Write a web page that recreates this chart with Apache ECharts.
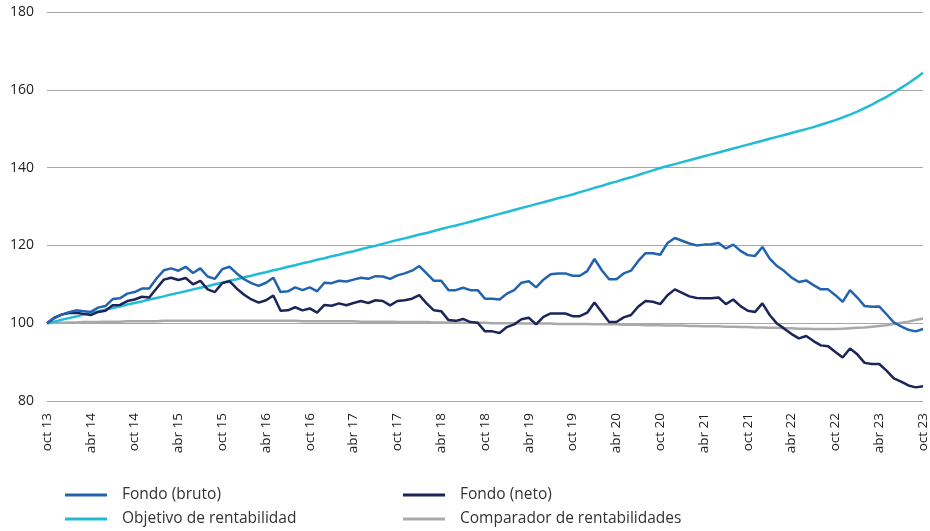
<!DOCTYPE html>
<html>
<head>
<meta charset="utf-8">
<script src="https://cdn.jsdelivr.net/npm/echarts@6/dist/echarts.min.js"></script>
<style>
  html, body { margin: 0; padding: 0; background: #fff; }
  #chart { width: 930px; height: 531px; }
</style>
</head>
<body>
<div id="chart"></div>
<script>
// meses de oct 13 a oct 23 (121 puntos mensuales)
var mesesAbr = ['ene', 'feb', 'mar', 'abr', 'may', 'jun', 'jul', 'ago', 'sep', 'oct', 'nov', 'dic'];
var categorias = [];
for (var k = 0; k <= 120; k++) {
  var m = (9 + k) % 12;
  var a = 13 + Math.floor((9 + k) / 12);
  categorias.push(mesesAbr[m] + ' ' + a);
}

var yTicks = [80, 100, 120, 140, 160, 180];

var fondoBruto = [
  100, 101.3, 102.2, 102.8, 103.3, 103.1, 102.9, 104, 104.4, 106.2, 106.4, 107.6,
  108, 108.9, 108.9, 111.5, 113.6, 114.1, 113.5, 114.5, 112.9, 114.1, 112, 111.4,
  113.9, 114.5, 112.8, 111.3, 110.3, 109.6, 110.4, 111.7, 108, 108.2, 109.2, 108.5,
  109.2, 108.2, 110.4, 110.3, 110.9, 110.7, 111.2, 111.7, 111.4, 112.1, 112, 111.4,
  112.3, 112.8, 113.5, 114.7, 112.8, 110.9, 110.9, 108.5, 108.5, 109.1, 108.5, 108.5,
  106.3, 106.3, 106.1, 107.6, 108.5, 110.4, 110.8, 109.2, 111.2, 112.6, 112.8, 112.8,
  112.2, 112.2, 113.4, 116.5, 113.6, 111.3, 111.3, 112.8, 113.5, 116, 118, 118,
  117.6, 120.6, 121.9, 121.2, 120.5, 120, 120.2, 120.3, 120.6, 119.2, 120.2, 118.6,
  117.5, 117.3, 119.6, 116.6, 114.7, 113.4, 111.7, 110.6, 111, 109.8, 108.7, 108.7,
  107.2, 105.5, 108.5, 106.6, 104.4, 104.2, 104.3, 102.3, 100.2, 99.2, 98.3, 97.9,
  98.5
];

var fondoNeto = [
  100, 101.4, 102.2, 102.6, 102.7, 102.4, 102.1, 102.9, 103.2, 104.6, 104.7, 105.7,
  106.1, 106.8, 106.6, 108.9, 111.2, 111.7, 111.1, 111.6, 110, 110.9, 108.7, 108,
  110.3, 110.8, 108.9, 107.3, 106.1, 105.3, 105.9, 107.1, 103.2, 103.3, 104.1, 103.3,
  103.8, 102.7, 104.7, 104.5, 105.1, 104.6, 105.2, 105.7, 105.2, 105.9, 105.7, 104.6,
  105.7, 105.9, 106.3, 107.2, 105.1, 103.3, 103.1, 100.8, 100.6, 101.1, 100.3, 100.1,
  97.9, 97.9, 97.5, 99, 99.7, 101, 101.4, 99.7, 101.6, 102.5, 102.5, 102.5,
  101.8, 101.8, 102.7, 105.3, 102.8, 100.3, 100.3, 101.5, 102.1, 104.3, 105.7, 105.5,
  104.9, 107.2, 108.7, 107.8, 106.9, 106.5, 106.4, 106.4, 106.6, 104.9, 106.1, 104.4,
  103.2, 102.9, 105.1, 102.1, 99.9, 98.6, 97.2, 96.1, 96.7, 95.4, 94.3, 94.1,
  92.6, 91.2, 93.5, 92, 89.8, 89.5, 89.5, 87.8, 85.8, 85, 84, 83.5,
  83.8
];

var objetivo = [
  100, 100.4, 100.9, 101.3, 101.7, 102.2, 102.6, 103, 103.5, 103.9, 104.3, 104.8,
  105.2, 105.6, 106.1, 106.5, 106.9, 107.4, 107.8, 108.2, 108.7, 109.1, 109.5, 110,
  110.4, 110.9, 111.3, 111.8, 112.2, 112.7, 113.1, 113.6, 114, 114.5, 114.9, 115.4,
  115.8, 116.3, 116.7, 117.2, 117.6, 118.1, 118.5, 119, 119.5, 119.9, 120.4, 120.9,
  121.4, 121.8, 122.3, 122.8, 123.2, 123.7, 124.2, 124.7, 125.1, 125.6, 126.1, 126.6,
  127.1, 127.6, 128.1, 128.6, 129.1, 129.6, 130.1, 130.6, 131.1, 131.6, 132.1, 132.6,
  133.1, 133.7, 134.2, 134.8, 135.3, 135.9, 136.4, 137, 137.5, 138.1, 138.7, 139.3,
  139.9, 140.4, 140.9, 141.4, 141.9, 142.4, 142.9, 143.4, 143.9, 144.4, 144.9, 145.4,
  145.9, 146.4, 146.9, 147.4, 147.9, 148.4, 148.9, 149.4, 149.9, 150.4, 151, 151.6,
  152.2, 152.9, 153.6, 154.4, 155.3, 156.2, 157.2, 158.2, 159.3, 160.5, 161.7, 163,
  164.4
];

var comparador = [
  100, 100.1, 100.1, 100.2, 100.2, 100.3, 100.3, 100.3, 100.4, 100.4, 100.4, 100.5,
  100.5, 100.5, 100.5, 100.5, 100.6, 100.6, 100.6, 100.6, 100.6, 100.6, 100.6, 100.6,
  100.6, 100.6, 100.6, 100.6, 100.6, 100.6, 100.6, 100.6, 100.6, 100.6, 100.6, 100.5,
  100.5, 100.5, 100.5, 100.5, 100.5, 100.5, 100.5, 100.4, 100.4, 100.4, 100.4, 100.4,
  100.3, 100.3, 100.3, 100.3, 100.3, 100.2, 100.2, 100.2, 100.2, 100.1, 100.1, 100.1,
  100.1, 100, 100, 100, 100, 99.9, 99.9, 99.9, 99.9, 99.9, 99.8, 99.8,
  99.8, 99.8, 99.8, 99.7, 99.7, 99.7, 99.7, 99.6, 99.6, 99.6, 99.5, 99.5,
  99.5, 99.4, 99.4, 99.4, 99.3, 99.3, 99.2, 99.2, 99.2, 99.1, 99.1, 99,
  99, 98.9, 98.9, 98.8, 98.8, 98.7, 98.7, 98.6, 98.6, 98.5, 98.5, 98.5,
  98.5, 98.6, 98.7, 98.8, 98.9, 99.1, 99.3, 99.5, 99.8, 100.1, 100.4, 100.8,
  101.2
];

var chart = echarts.init(document.getElementById('chart'));

var fuente = '"Open Sans", "Noto Sans", sans-serif';

function serie(nombre, datos, color) {
  return {
    name: nombre,
    type: 'line',
    data: datos,
    symbol: 'none',
    smooth: false,
    lineStyle: { color: color, width: 2.5 },
    itemStyle: { color: color }
  };
}

// una leyenda por elemento, colocadas en dos columnas
function leyenda(izq, arriba, nombre) {
  return {
    left: izq,
    top: arriba,
    data: [nombre],
    itemWidth: 42,
    itemHeight: 3,
    icon: 'path://M0,0 L42,0 L42,3 L0,3 Z',
    textStyle: {
      fontFamily: fuente,
      fontSize: 15.5,
      color: '#333',
      padding: [0, 0, 0, 10]
    }
  };
}

var option = {
  animation: false,
  grid: { left: 47, right: 2, top: 12, bottom: 130, containLabel: false },
  legend: [
    leyenda(60, 482, 'Fondo (bruto)'),
    leyenda(60, 506, 'Objetivo de rentabilidad'),
    leyenda(398, 482, 'Fondo (neto)'),
    leyenda(398, 506, 'Comparador de rentabilidades')
  ],
  xAxis: {
    type: 'category',
    data: categorias,
    boundaryGap: false,
    axisLine: { show: false },
    axisTick: { show: false },
    axisLabel: {
      interval: 5,
      rotate: 90,
      margin: 12,
      fontFamily: fuente,
      fontSize: 13.5,
      color: '#222'
    }
  },
  yAxis: {
    type: 'value',
    min: yTicks[0],
    max: yTicks[yTicks.length - 1],
    interval: 20,
    axisLine: { show: false },
    axisTick: { show: false },
    axisLabel: { margin: 13, fontFamily: fuente, fontSize: 14, color: '#222' },
    splitLine: { lineStyle: { color: '#a6a6a6', width: 1.2 } }
  },
  series: [
    serie('Comparador de rentabilidades', comparador, '#a9a9a9'),
    serie('Objetivo de rentabilidad', objetivo, '#20bcd5'),
    serie('Fondo (neto)', fondoNeto, '#1b2558'),
    serie('Fondo (bruto)', fondoBruto, '#2263b0')
  ]
};

chart.setOption(option);
</script>
</body>
</html>
